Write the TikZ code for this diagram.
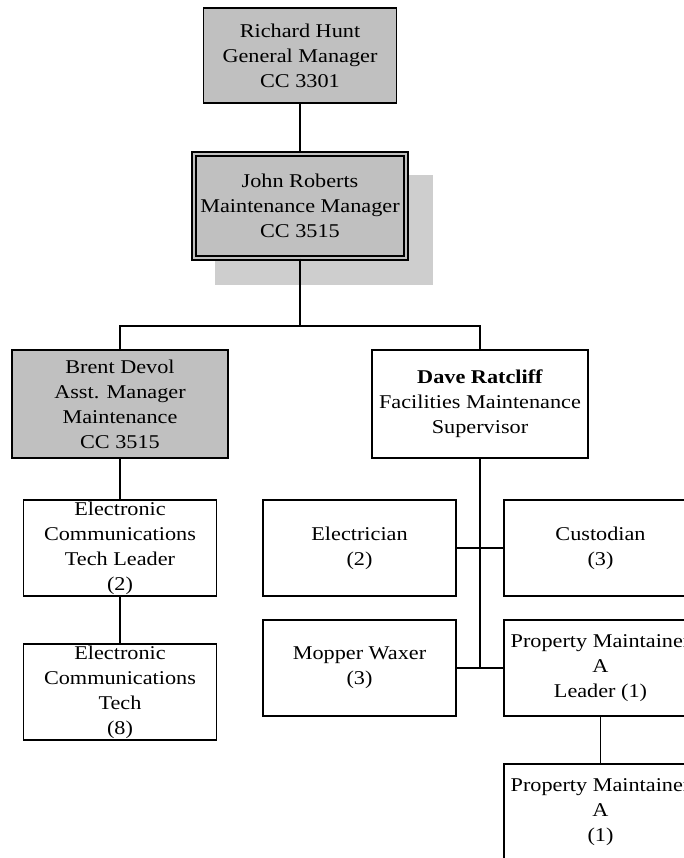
\documentclass[tikz,border=0pt]{standalone}
\usepackage{fontspec}
\setmainfont[FakeStretch=1.14]{Liberation Serif}
\usetikzlibrary{positioning,calc}
\definecolor{boxgray}{RGB}{192,192,192}
\definecolor{shadegray}{RGB}{206,206,206}

\begin{document}
\begin{tikzpicture}[x=1pt, y=-1pt,
      post/.style={draw, line width=1.9pt, align=center, inner sep=0pt, minimum width=193pt, minimum height=96pt, font=\fontsize{19.5}{25}\selectfont},
      chief/.style={post, fill=boxgray, minimum width=216pt, minimum height=108pt},
      link/.style={line width=1.9pt}
    ]
    \useasboundingbox (0,0) rectangle (684,858);
    \clip (0,0) rectangle (684,858);
    \fill[shadegray] (215,175) rectangle (433,285);
    \node[chief, minimum width=193pt, minimum height=95pt] (hunt) at (300,55.5) {Richard Hunt\\General Manager\\CC 3301};
    \node[chief, double=boxgray, double distance=2.5pt, line width=1.4pt, minimum width=212pt, minimum height=104pt] (roberts) at (300,206) {John Roberts\\Maintenance Manager\\CC 3515};
    \node[chief] (devol) at (120,404) {Brent Devol\\Asst. Manager\\Maintenance\\CC 3515};
    \node[post, minimum width=216pt, minimum height=108pt] (ratcliff) at (480,404) {\textbf{Dave Ratcliff}\\Facilities Maintenance\\Supervisor};
    \node[post] (ectlead) at (120,548) {Electronic\\Communications\\Tech Leader\\(2)};
    \node[post] (ect) at (120,692) {Electronic\\Communications\\Tech\\(8)};
    \node[post] (electrician) at (359.5,548) {Electrician\\(2)};
    \node[post] (custodian) at (600.5,548) {Custodian\\(3)};
    \node[post] (mopper) at (359.5,668) {Mopper Waxer\\(3)};
    \node[post] (pmlead) at (600.5,668) {Property Maintainer\\A\\Leader (1)};
    \node[post] (pma) at (600.5,812) {Property Maintainer\\A\\(1)};
    \coordinate (split) at (300,326);
    \draw[link] (hunt) -- (roberts);
    \draw[link] (roberts) -- (split);
    \draw[link] (devol.north) |- (split) -| (ratcliff.north);
    \draw[link] (devol) -- (ectlead);
    \draw[link] (ectlead) -- (ect);
    \draw[link] (ratcliff.south) |- (mopper.east);
    \draw[link] (mopper) -- (pmlead);
    \draw[link] (electrician) -- (custodian);
    \draw[link] (pmlead) -- (pma);
  \end{tikzpicture}
\end{document}
